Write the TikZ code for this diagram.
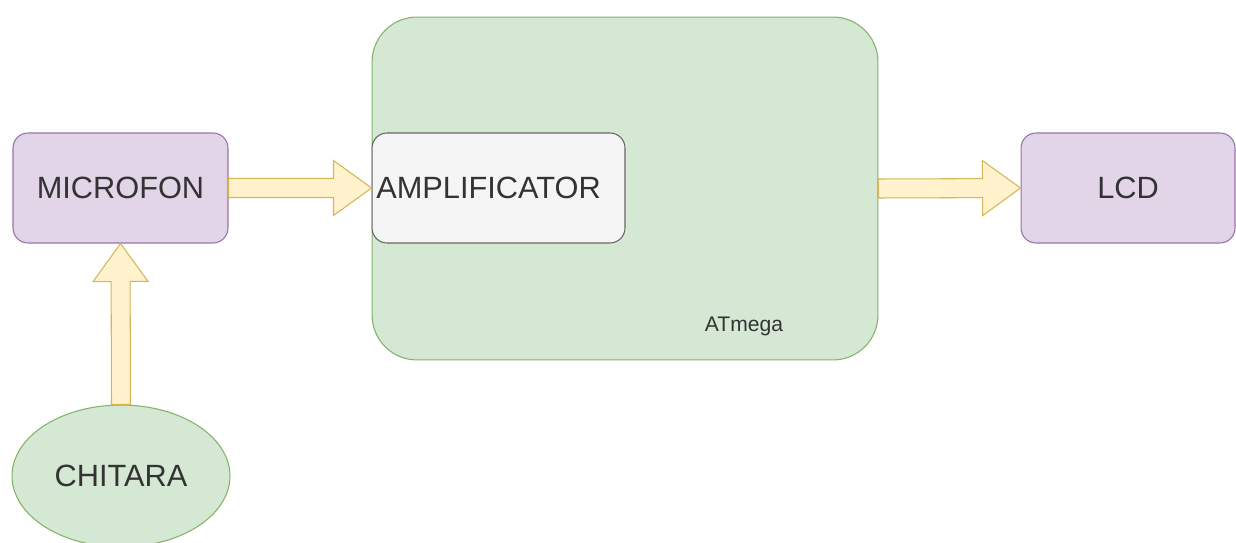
\documentclass[tikz,border=0pt]{standalone}
\usepackage{fontspec}
\setmainfont{Liberation Sans}
\usetikzlibrary{positioning,calc,shapes.geometric}

\definecolor{purplefill}{HTML}{E1D5E7}
\definecolor{purpleline}{HTML}{9673A6}
\definecolor{greenfill}{HTML}{D5E8D4}
\definecolor{greenline}{HTML}{82B366}
\definecolor{yellowfill}{HTML}{FFF2CC}
\definecolor{yellowline}{HTML}{D6B656}
\definecolor{greyfill}{HTML}{F5F5F5}
\definecolor{greyline}{HTML}{666666}
\definecolor{textgrey}{HTML}{333333}

\tikzset{
  box/.style={draw=purpleline, fill=purplefill, rounded corners=0.3cm,
    minimum width=4.3cm, minimum height=2.2cm, line width=0.6pt,
    text=textgrey, font=\fontsize{17.5}{20}\selectfont},
  mcu/.style={draw=greenline, fill=greenfill, rounded corners=0.9cm,
    minimum width=10.12cm, minimum height=6.86cm, line width=0.6pt},
  ampbox/.style={box, draw=greyline, fill=greyfill, minimum width=5.06cm,
    inner sep=0pt},
  source/.style={ellipse, draw=greenline, fill=greenfill, line width=0.6pt,
    minimum width=4.36cm, minimum height=2.84cm, inner sep=0pt,
    text=textgrey, font=\fontsize{17.5}{20}\selectfont},
  blockarr/.style={draw=yellowline, fill=yellowfill, line width=0.6pt,
    line join=miter}
}

% wide arrow from #1 to #2
\newcommand\blockarrow[2]{%
  \coordinate (ba-h) at ($(#2)!0.76cm!(#1)$);
  \draw[blockarr] ($(#1)!0.19cm!90:(#2)$) -- ($(ba-h)!0.19cm!-90:(#1)$)
    -- ($(ba-h)!0.55cm!-90:(#1)$) -- (#2) -- ($(ba-h)!0.55cm!90:(#1)$)
    -- ($(ba-h)!0.19cm!90:(#1)$) -- ($(#1)!0.19cm!-90:(#2)$) -- cycle;}

\begin{document}
\begin{tikzpicture}[x=0.02cm, y=-0.02cm]
  \useasboundingbox (0,0) rectangle (1236,543);

  \node[box] (mic) at (120.5,188) {MICROFON};
  \node[mcu] (atm) at (625,188.5) {};
  \node[ampbox] (amp) at (498.5,188) {AMPLIFICATOR\kern0.4cm};
  \node[text=textgrey, font=\fontsize{12}{14}\selectfont] (atmlbl)
    at (744,326) {ATmega};
  \node[box, minimum width=4.28cm] (lcd) at (1128,188) {LCD};
  \node[source] (chit) at (121,476) {CHITARA};

  \blockarrow{mic.east}{amp.west}
  \blockarrow{chit.north}{mic.south}
  \blockarrow{atm.east}{lcd.west}
\end{tikzpicture}
\end{document}
